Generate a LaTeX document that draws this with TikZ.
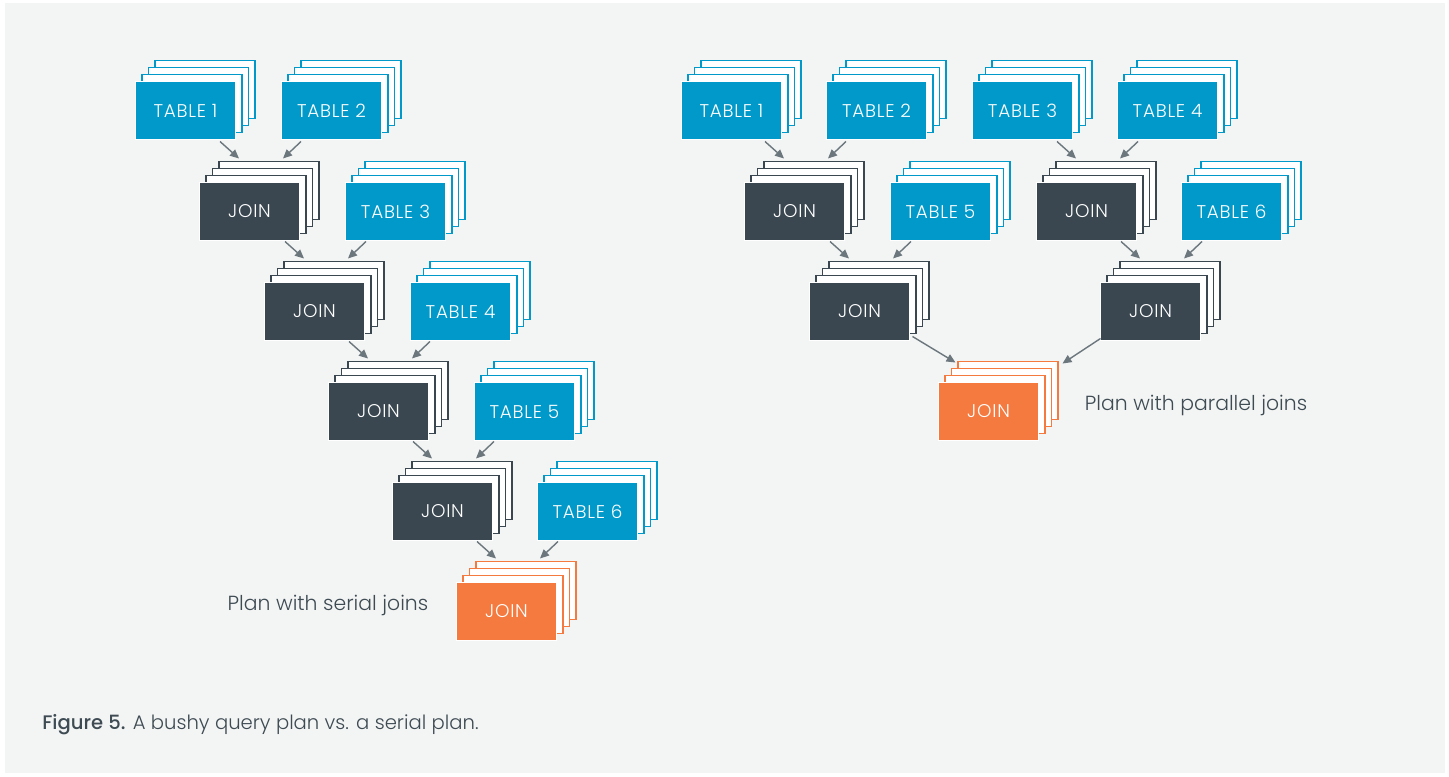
\documentclass[tikz,border=0pt]{standalone}
\usepackage{fontspec}
\setmainfont{Poppins}[UprightFont={* Light},BoldFont={* Medium}]
\usetikzlibrary{calc,arrows.meta}

\definecolor{tblblue}{HTML}{0099C9}
\definecolor{joingray}{HTML}{3A4750}
\definecolor{finorange}{HTML}{F57A40}
\definecolor{arrowgray}{HTML}{6B777D}
\definecolor{textgray}{HTML}{3E4B53}
\definecolor{panelgray}{HTML}{F3F4F4}

\tikzset{
  box/.style={minimum width=50pt,minimum height=29pt,inner sep=0pt,
    draw=white,line width=0.5pt,text=white,
    font=\fontsize{9.2}{11}\selectfont\addfontfeatures{LetterSpace=4}},
  tbl/.style={box,fill=tblblue},
  jn/.style={box,fill=joingray},
  fin/.style={box,fill=finorange},
  tbl card/.style={draw=tblblue,fill=white,line width=0.8pt},
  jn card/.style={draw=joingray,fill=white,line width=0.8pt},
  fin card/.style={draw=finorange,fill=white,line width=0.8pt},
  feed/.style={draw=arrowgray,line width=0.7pt,-{Triangle[length=4.5pt,width=4pt]}},
  label/.style={text=textgray,font=\fontsize{10.2}{12}\selectfont},
}

% stack of cards: name, centre, kind, text
\newcommand{\plancard}[4]{%
  \foreach \k in {3,2,1}
    \draw[#3 card] ($(#2)+(6.5*\k-50,-7*\k-29)$) rectangle +(100,58);
  \node[#3] (#1) at (#2) {#4};
}
% arrows into the back card of a stack
\newcommand{\feedleft}[2]{\draw[feed] ($(#2)+(-29.5,-70)$) -- ($(#2)+(-10.5,-53)$);}
\newcommand{\feedright}[2]{\draw[feed] ($(#2)+(51.5,-70)$) -- ($(#2)+(33.5,-53)$);}

\begin{document}
\begin{tikzpicture}[x=0.5pt,y=-0.5pt]
  \useasboundingbox (0,0) rectangle (1449,776);
  \fill[white] (0,0) rectangle (1449,776);
  \fill[panelgray] (5,3) rectangle (1445,773);

  % serial plan
  \plancard{t1}{185.5,110.5}{tbl}{TABLE 1}
  \plancard{t2}{331.5,110.5}{tbl}{TABLE 2}
  \plancard{j1}{249.5,211.5}{jn}{JOIN}
  \plancard{t3}{395.5,211.5}{tbl}{TABLE 3}
  \plancard{j2}{314.5,311.5}{jn}{JOIN}
  \plancard{t4}{460.5,311.5}{tbl}{TABLE 4}
  \plancard{j3}{378.5,411.5}{jn}{JOIN}
  \plancard{t5}{524.5,411.5}{tbl}{TABLE 5}
  \plancard{j4}{442.5,511.5}{jn}{JOIN}
  \plancard{t6}{587.5,511.5}{tbl}{TABLE 6}
  \plancard{jf}{506.5,611.5}{fin}{JOIN}
  \feedleft{t1}{j1} \feedright{t2}{j1}
  \feedleft{j1}{j2} \feedright{t3}{j2}
  \feedleft{j2}{j3} \feedright{t4}{j3}
  \feedleft{j3}{j4} \feedright{t5}{j4}
  \feedleft{j4}{jf} \feedright{t6}{jf}
  \node[label] (serial) at (328,605) {Plan with serial joins};

  % parallel plan
  \plancard{pt1}{731.5,110.5}{tbl}{TABLE 1}
  \plancard{pt2}{876.5,110.5}{tbl}{TABLE 2}
  \plancard{pt3}{1022.5,110.5}{tbl}{TABLE 3}
  \plancard{pt4}{1167.5,110.5}{tbl}{TABLE 4}
  \plancard{pj1}{794.5,211.5}{jn}{JOIN}
  \plancard{pt5}{940.5,211.5}{tbl}{TABLE 5}
  \plancard{pj2}{1086.5,211.5}{jn}{JOIN}
  \plancard{pt6}{1231.5,211.5}{tbl}{TABLE 6}
  \plancard{pj3}{859.5,311.5}{jn}{JOIN}
  \plancard{pj4}{1150.5,311.5}{jn}{JOIN}
  \plancard{pjf}{988.5,411.5}{fin}{JOIN}
  \feedleft{pt1}{pj1} \feedright{pt2}{pj1}
  \feedleft{pt3}{pj2} \feedright{pt4}{pj2}
  \feedleft{pj1}{pj3} \feedright{pt5}{pj3}
  \feedleft{pj2}{pj4} \feedright{pt6}{pj4}
  \draw[feed] ($(pj3)+(53,25)$) -- ($(pjf)+(-33,-49)$);
  \draw[feed] ($(pj4)+(-50,27)$) -- ($(pjf)+(74,-48)$);
  \node[label] (parallel) at (1196,405) {Plan with parallel joins};

  \node[text=textgray,anchor=west,inner sep=0pt,font=\fontsize{9.8}{11}\selectfont] (caption) at (42,725)
    {\textbf{Figure 5.} A bushy query plan vs. a serial plan.};
\end{tikzpicture}
\end{document}
